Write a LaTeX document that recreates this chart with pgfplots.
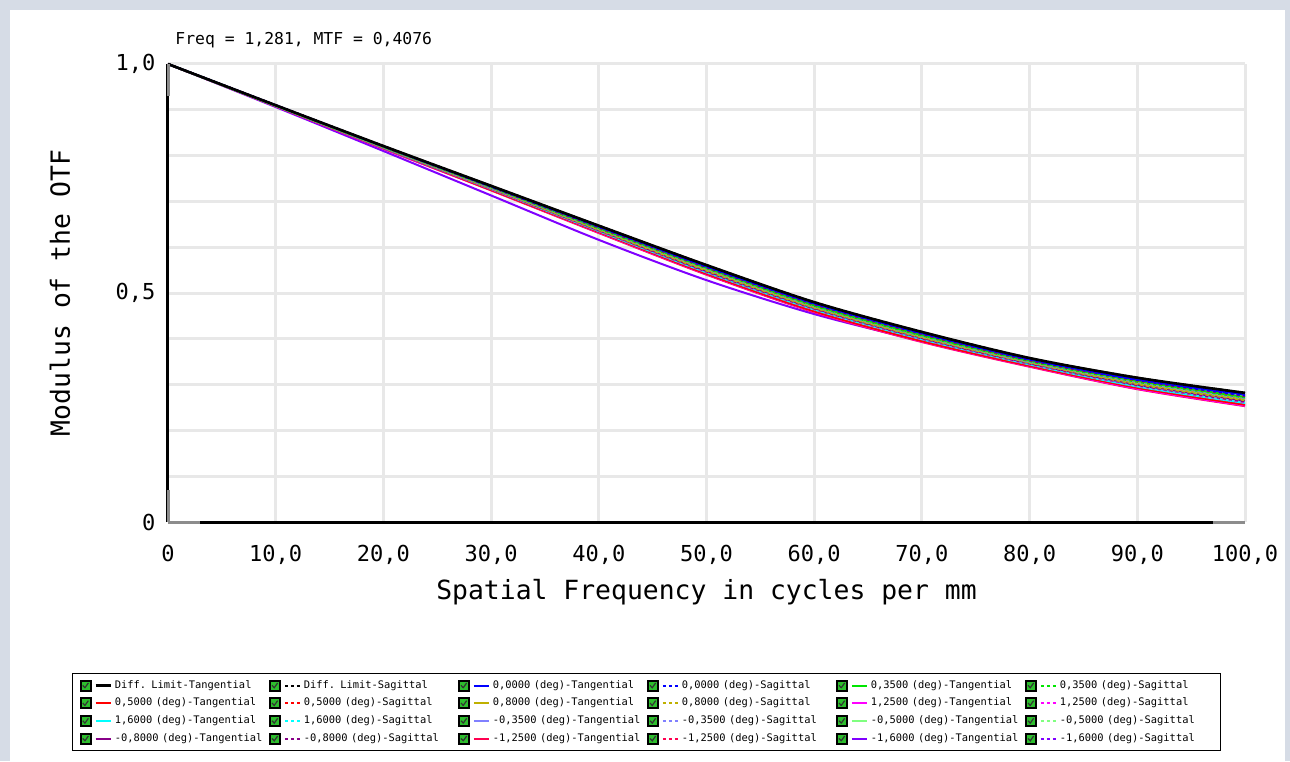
\documentclass[border=0pt]{standalone}
\usepackage{fontspec}
\setmainfont{DejaVu Sans Mono}
\usepackage{pgfplots}
\usepackage{pgfplotstable}
\pgfplotsset{compat=1.18}

\definecolor{bgc}{HTML}{D6DCE6}
\definecolor{gridc}{HTML}{E8E8E8}
\definecolor{chkgreen}{HTML}{2DBE2D}
\definecolor{cBlue}{HTML}{0000FF}
\definecolor{cGreen}{HTML}{00E600}
\definecolor{cRed}{HTML}{FF0000}
\definecolor{cOlive}{HTML}{BFB000}
\definecolor{cMagenta}{HTML}{FF00FF}
\definecolor{cCyan}{HTML}{00FFFF}
\definecolor{cLav}{HTML}{8080FF}
\definecolor{cLGreen}{HTML}{80FF80}
\definecolor{cPurple}{HTML}{880088}
\definecolor{cCrimson}{HTML}{FF0050}
\definecolor{cViolet}{HTML}{8000FF}

\tikzset{
  cT/.style={color=#1, solid, line width=1pt, line join=round},
  cS/.style={color=#1, dash pattern=on 1.5pt off 1.5pt, line width=1pt},
}

% MTF values (x in cycles/mm)
\pgfplotstableread{
x   B    k15  k20  k25  k30  k35  k40  k45  k50  k55  k60  k65  k70  k75  k90  k95  L    P
0   1.000 1.000 1.000 1.000 1.000 1.000 1.000 1.000 1.000 1.000 1.000 1.000 1.000 1.000 1.000 1.000 1.000 1.000
10  0.910 0.910 0.910 0.910 0.909 0.909 0.909 0.909 0.909 0.909 0.909 0.909 0.909 0.909 0.908 0.908 0.908 0.906
20  0.821 0.820 0.820 0.820 0.819 0.819 0.819 0.818 0.818 0.818 0.817 0.817 0.817 0.817 0.816 0.815 0.815 0.810
30  0.734 0.733 0.732 0.732 0.731 0.731 0.730 0.730 0.729 0.729 0.728 0.728 0.727 0.727 0.725 0.725 0.724 0.713
40  0.647 0.645 0.644 0.643 0.642 0.641 0.641 0.640 0.639 0.638 0.637 0.637 0.636 0.635 0.633 0.632 0.631 0.616
50  0.561 0.558 0.557 0.556 0.555 0.554 0.553 0.552 0.551 0.549 0.548 0.547 0.546 0.545 0.542 0.541 0.540 0.528
60  0.480 0.477 0.476 0.475 0.473 0.472 0.471 0.470 0.469 0.468 0.467 0.466 0.465 0.464 0.460 0.459 0.458 0.454
70  0.415 0.412 0.411 0.410 0.408 0.407 0.406 0.405 0.404 0.403 0.402 0.401 0.400 0.399 0.395 0.394 0.393 0.395
80  0.358 0.355 0.354 0.353 0.352 0.351 0.350 0.349 0.349 0.348 0.347 0.346 0.345 0.344 0.341 0.340 0.339 0.342
90  0.315 0.311 0.310 0.309 0.308 0.306 0.305 0.304 0.303 0.301 0.300 0.299 0.298 0.296 0.293 0.291 0.290 0.295
100 0.282 0.278 0.276 0.275 0.273 0.272 0.270 0.269 0.268 0.266 0.265 0.263 0.262 0.260 0.256 0.254 0.253 0.257
}\mtf

\begin{document}
\begin{tikzpicture}
\useasboundingbox (0,0) rectangle (645pt,380.5pt);
\fill[bgc] (0,0) rectangle (645pt,380.5pt);
\fill[white] (5pt,0) rectangle (642.5pt,375.5pt);

\node[anchor=base west, inner sep=0pt, font=\fontsize{8.2}{10}\selectfont] at (87.5pt,358pt) {Freq = 1,281, MTF = 0,4076};

\begin{axis}[
  at={(84pt,119.5pt)}, anchor=south west,
  scale only axis, width=538.5pt, height=229pt,
  xmin=0, xmax=100, ymin=0, ymax=1,
  clip=false,
  axis x line*=bottom, axis y line*=left,
  axis line style={black, line width=1.5pt},
  xtick={0,10,20,30,40,50,60,70,80,90,100},
  xticklabels={0,{10,0},{20,0},{30,0},{40,0},{50,0},{60,0},{70,0},{80,0},{90,0},{100,0}},
  ytick={0,0.5,1},
  yticklabels={0,{0,5},{1,0}},
  minor ytick={0.1,0.2,0.3,0.4,0.6,0.7,0.8,0.9},
  grid=both,
  major grid style={draw=gridc, line width=1.5pt},
  minor grid style={draw=gridc, line width=1.5pt},
  major tick length=0pt, minor tick length=0pt,
  /pgf/number format/assume math mode=true,
  tick label style={font=\fontsize{11}{13}\selectfont},
  xticklabel style={yshift=-8.3pt},
  yticklabel style={xshift=-2.8pt},
  xlabel={Spatial Frequency in cycles per mm},
  ylabel={Modulus of the OTF},
  xlabel style={at={(axis description cs:0.5,-0.17)}, anchor=base, font=\fontsize{13.2}{15}\selectfont},
  ylabel style={at={(axis description cs:-0.1003,0.5)}, anchor=center, font=\fontsize{13.2}{15}\selectfont},
  legend columns=6,
  legend cell align=left,
  legend style={at={(axis description cs:-0.0891,-0.3297)}, anchor=north west,
    draw=black, line width=0.5pt, fill=white,
    inner xsep=3.5pt, inner ysep=1.6pt, row sep=0pt, column sep=0pt,
    font=\fontsize{5.2}{6}\selectfont,
    nodes={text width=76.5pt, align=left, inner xsep=0.5pt, inner ysep=0pt, minimum height=8.85pt}},
  legend image code/.code={
    \fill[black, draw=none, solid] (0pt,-3pt) rectangle (6pt,3pt);
    \fill[chkgreen, draw=none, solid] (1pt,-2pt) rectangle (5pt,2pt);
    \draw[black!80, solid, line width=0.6pt, fill=none] (1.6pt,0.1pt) -- (2.7pt,-1.1pt) -- (4.4pt,1.3pt);
    \draw[#1] (8pt,0pt) -- (15.5pt,0pt);
    \path (16.5pt,0pt);
  },
]
% curves (bottom to top)
\addplot[cT=cViolet, smooth, forget plot] table[x=x,y=P]{\mtf};
\addplot[cT=cCrimson, smooth, forget plot] table[x=x,y=L]{\mtf};
\addplot[cT=cMagenta, smooth, forget plot] table[x=x,y=k95]{\mtf};
\addplot[cT=cRed, smooth, forget plot] table[x=x,y=k90]{\mtf};
\addplot[cT=cCyan, smooth, forget plot] table[x=x,y=k75]{\mtf};
\addplot[cT=cPurple, smooth, forget plot] table[x=x,y=k60]{\mtf};
\addplot[cT=cLGreen, smooth, forget plot] table[x=x,y=k45]{\mtf};
\addplot[cT=cOlive, smooth, forget plot] table[x=x,y=k50]{\mtf};
\addplot[cT=cLav, smooth, forget plot] table[x=x,y=k35]{\mtf};
\addplot[cT=cGreen, smooth, forget plot] table[x=x,y=k30]{\mtf};
\addplot[cT=cBlue, smooth, forget plot] table[x=x,y=k15]{\mtf};
\addplot[cS=cViolet, smooth, forget plot] table[x=x,y=k65]{\mtf};
\addplot[cS=cCrimson, smooth, forget plot] table[x=x,y=k70]{\mtf};
\addplot[cS=cMagenta, smooth, forget plot] table[x=x,y=k70]{\mtf};
\addplot[cS=cCyan, smooth, forget plot] table[x=x,y=k65]{\mtf};
\addplot[cS=cPurple, smooth, forget plot] table[x=x,y=k65]{\mtf};
\addplot[cS=cLGreen, smooth, forget plot] table[x=x,y=k50]{\mtf};
\addplot[cS=cOlive, smooth, forget plot] table[x=x,y=k55]{\mtf};
\addplot[cS=cLav, smooth, forget plot] table[x=x,y=k40]{\mtf};
\addplot[cS=cGreen, smooth, forget plot] table[x=x,y=k35]{\mtf};
\addplot[cS=cRed, smooth, forget plot] table[x=x,y=k25]{\mtf};
\addplot[cS=cBlue, smooth, forget plot] table[x=x,y=k20]{\mtf};
\addplot[cT=black, line width=1.3pt, smooth, forget plot] table[x=x,y=B]{\mtf};
\addplot[cS=black, smooth, forget plot] table[x=x,y=B]{\mtf};

% legend in original order
\addlegendimage{cT=black, line width=1.3pt}\addlegendentry{Diff. Limit-Tangential}
\addlegendimage{cS=black}\addlegendentry{Diff. Limit-Sagittal}
\addlegendimage{cT=cBlue}\addlegendentry{0,0000 (deg)-Tangential}
\addlegendimage{cS=cBlue}\addlegendentry{0,0000 (deg)-Sagittal}
\addlegendimage{cT=cGreen}\addlegendentry{0,3500 (deg)-Tangential}
\addlegendimage{cS=cGreen}\addlegendentry{0,3500 (deg)-Sagittal}
\addlegendimage{cT=cRed}\addlegendentry{0,5000 (deg)-Tangential}
\addlegendimage{cS=cRed}\addlegendentry{0,5000 (deg)-Sagittal}
\addlegendimage{cT=cOlive}\addlegendentry{0,8000 (deg)-Tangential}
\addlegendimage{cS=cOlive}\addlegendentry{0,8000 (deg)-Sagittal}
\addlegendimage{cT=cMagenta}\addlegendentry{1,2500 (deg)-Tangential}
\addlegendimage{cS=cMagenta}\addlegendentry{1,2500 (deg)-Sagittal}
\addlegendimage{cT=cCyan}\addlegendentry{1,6000 (deg)-Tangential}
\addlegendimage{cS=cCyan}\addlegendentry{1,6000 (deg)-Sagittal}
\addlegendimage{cT=cLav}\addlegendentry{-0,3500 (deg)-Tangential}
\addlegendimage{cS=cLav}\addlegendentry{-0,3500 (deg)-Sagittal}
\addlegendimage{cT=cLGreen}\addlegendentry{-0,5000 (deg)-Tangential}
\addlegendimage{cS=cLGreen}\addlegendentry{-0,5000 (deg)-Sagittal}
\addlegendimage{cT=cPurple}\addlegendentry{-0,8000 (deg)-Tangential}
\addlegendimage{cS=cPurple}\addlegendentry{-0,8000 (deg)-Sagittal}
\addlegendimage{cT=cCrimson}\addlegendentry{-1,2500 (deg)-Tangential}
\addlegendimage{cS=cCrimson}\addlegendentry{-1,2500 (deg)-Sagittal}
\addlegendimage{cT=cViolet}\addlegendentry{-1,6000 (deg)-Tangential}
\addlegendimage{cS=cViolet}\addlegendentry{-1,6000 (deg)-Sagittal}
\end{axis}

% grey end segments of the axis lines
\draw[black!45, line width=1.5pt] (84pt,348.5pt) -- (84pt,332.5pt);
\draw[black!45, line width=1.5pt] (84pt,135.5pt) -- (84pt,119.5pt);
\draw[black!45, line width=1.5pt] (84pt,119.5pt) -- (100pt,119.5pt);
\draw[black!45, line width=1.5pt] (606.5pt,119.5pt) -- (622.5pt,119.5pt);
\end{tikzpicture}
\end{document}
